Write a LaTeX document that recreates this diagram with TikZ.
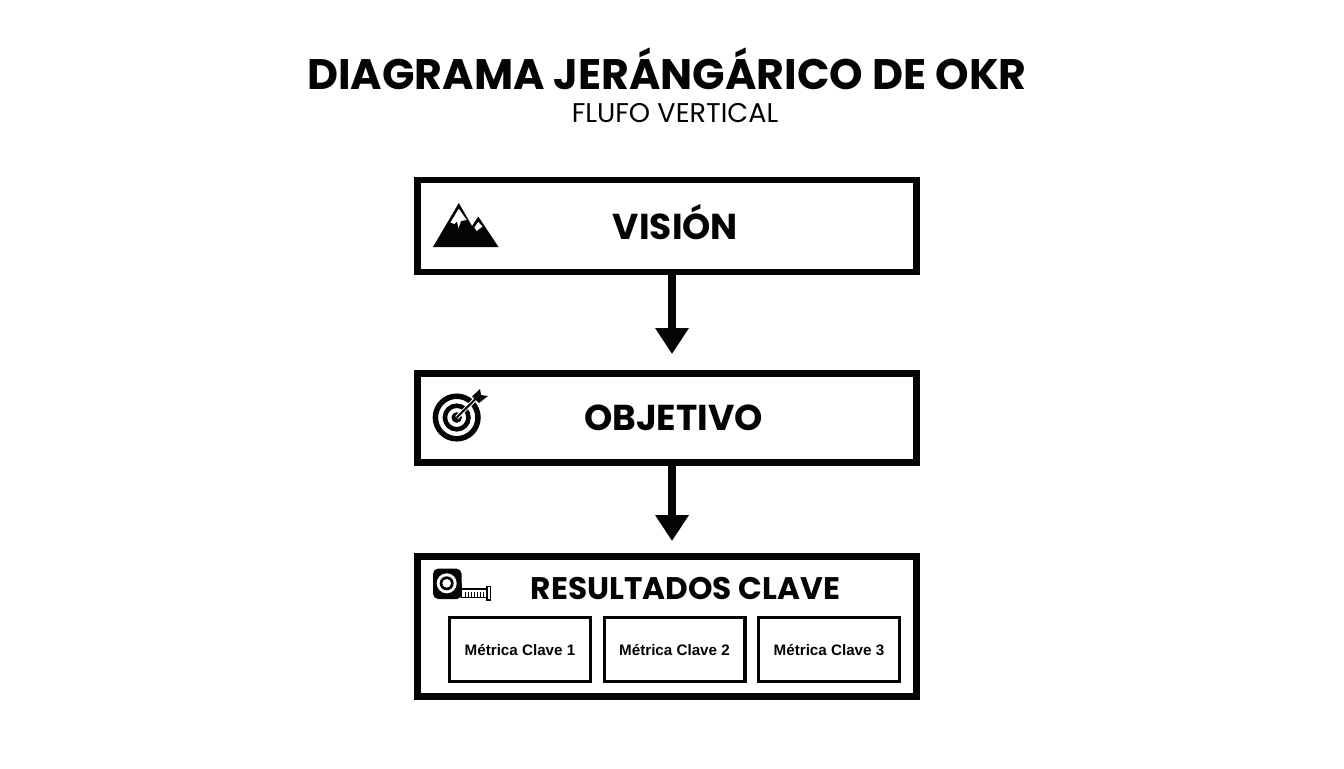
\documentclass[tikz,border=0pt]{standalone}
\usepackage{fontspec}
\setmainfont{Liberation Sans}
\newfontfamily\titlefont{Poppins}
\usetikzlibrary{arrows.meta,calc}
\definecolor{ink}{HTML}{040404}
\tikzset{
  x=0.75pt,y=-0.75pt,
  mainbox/.style={draw=ink,line width=5.2pt,fill=white,inner sep=0pt,outer sep=0pt,anchor=north west},
  subbox/.style={draw=ink,line width=2.5pt,fill=white,inner sep=0pt,outer sep=0pt,minimum width=105.5pt,minimum height=48pt,font=\fontsize{11.4pt}{13pt}\selectfont\bfseries,text=ink},
  boxlabel/.style={text=ink,inner sep=0pt,font=\titlefont\fontsize{27pt}{32pt}\selectfont\bfseries},
  flow/.style={draw=ink,line width=5.6pt,-{Triangle[length=19.5pt,width=24pt]}},
  ico/.style={fill=ink,draw=none},
}
\begin{document}
\begin{tikzpicture}
\useasboundingbox (0,0) rectangle (1344,768);
\fill[white] (0,0) rectangle (1344,768);
% title
\node[inner sep=0pt,text=ink] (title) at (667,68.5) {\titlefont\bfseries\fontsize{32pt}{36pt}\selectfont DIAGRAMA JERÁNGÁRICO DE OKR};
\node[inner sep=0pt,text=ink] (subtitle) at (675,113.5) {\titlefont\fontsize{20.3pt}{24pt}\selectfont FLUFO VERTICAL};
% boxes
\node[mainbox,minimum width=374.25pt,minimum height=69pt] (vision) at (417.5,180) {};
\node[mainbox,minimum width=374.25pt,minimum height=66.75pt] (objetivo) at (417.5,373.5) {};
\node[mainbox,minimum width=374.25pt,minimum height=105pt] (resultados) at (417.5,556.5) {};
\node[boxlabel] (tv) at (675.5,222.5) {VISIÓN};
\node[boxlabel] (to) at (673.5,418) {OBJETIVO};
\node[boxlabel,font=\titlefont\fontsize{23.4pt}{28pt}\selectfont\bfseries] (tr) at (685.5,588.5) {RESULTADOS CLAVE};
\node[subbox] (m1) at (520,649.5) {Métrica Clave 1};
\node[subbox] (m2) at (674.5,649.5) {Métrica Clave 2};
\node[subbox] (m3) at (829,649.5) {Métrica Clave 3};
% connectors
\coordinate (ax) at (672,0);
\draw[flow,shorten >=14.6pt] (vision.south -| ax) -- (objetivo.north -| ax);
\draw[flow,shorten >=11.6pt] (objetivo.south -| ax) -- (resultados.north -| ax);
% mountain icon
\fill[ico] (458.8,203) -- (433,247) -- (498.5,247) -- (478.3,216.5) -- (472,226) -- cycle;
\fill[white] (458.8,208.7) -- (450.5,222.5) -- (454.3,224) -- (457,221.5) -- (458.5,228) -- (461,221) -- (466.7,220) -- cycle;
\fill[white] (478.3,222) -- (474.3,227.5) -- (476.7,231) -- (482.5,226.5) -- cycle;
% target icon
\draw[ink,line width=4.1pt] (456.7,417.5) circle (21.3);
\draw[ink,line width=3.4pt] (456.7,417.5) circle (11.8);
\fill[ink] (456.7,417.5) circle (5.3);
\draw[white,line width=3pt] (456.7,417.5) -- (476,398.5);
\draw[ink,line width=1.5pt] (456.7,417.5) -- (476,398.5);
\fill[ink] (472,396.5) -- (480,389) -- (481,395) -- (488,396) -- (479,403) -- cycle;
% tape measure icon
\fill[ink,rounded corners=4pt] (433,568.5) -- (461.5,568.5) -- (462,599) -- (433,599) -- cycle;
\fill[white] (446.7,583.3) circle (10);
\fill[ink] (446.7,583.3) circle (7);
\fill[white] (446.7,583.3) circle (4.3);
\draw[ink,line width=0.9pt,fill=white] (461.5,589) rectangle (487,597.5);
\draw[ink,line width=0.8pt,fill=white] (487,586.5) rectangle (490.5,600);
\foreach \i in {465,468,...,486}{\draw[ink,line width=0.6pt] (\i,592) -- (\i,597.5);}
\end{tikzpicture}
\end{document}
